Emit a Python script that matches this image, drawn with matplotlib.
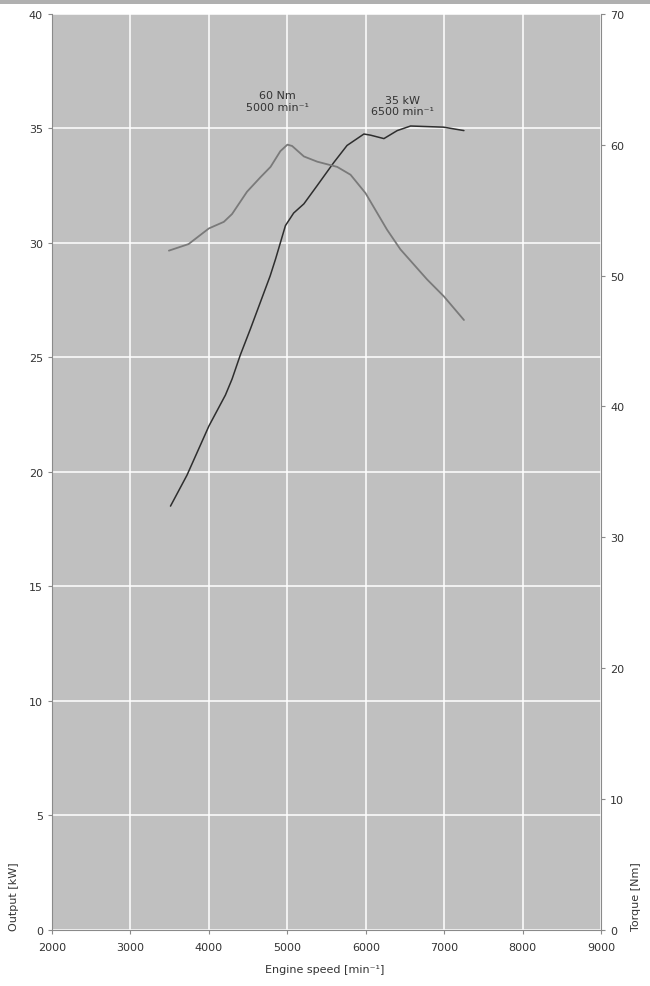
import matplotlib
matplotlib.use("Agg")
import matplotlib.pyplot as plt
from matplotlib.patches import Rectangle

# Leistungskurve (kW) ueber Drehzahl
power_rpm = [3510, 3720, 4000, 4210, 4295, 4400, 4530, 4655, 4780, 4850, 4975, 5080,
             5210, 5380, 5590, 5760, 5975, 6060, 6230, 6400, 6570, 6990, 7250]
power_kw = [18.5, 19.85, 22.0, 23.35, 24.05, 25.1, 26.25, 27.4, 28.55, 29.3, 30.75, 31.3,
            31.7, 32.5, 33.5, 34.25, 34.75, 34.7, 34.55, 34.9, 35.1, 35.05, 34.9]

# Drehmomentkurve (Nm) ueber Drehzahl
torque_rpm = [3490, 3740, 4000, 4190, 4295, 4485, 4655, 4785, 4910, 5000, 5060, 5210,
              5380, 5635, 5805, 5995, 6270, 6440, 6780, 6995, 7250]
torque_nm = [51.9, 52.4, 53.6, 54.1, 54.7, 56.4, 57.5, 58.3, 59.5, 60.0, 59.9, 59.1,
             58.7, 58.3, 57.7, 56.3, 53.5, 52.0, 49.7, 48.4, 46.6]

x_ticks = [2000, 3000, 4000, 5000, 6000, 7000, 8000, 9000]
left_ticks = [0, 5, 10, 15, 20, 25, 30, 35, 40]
right_ticks = [0, 10, 20, 30, 40, 50, 60, 70]

text_col = "#333333"
spine_col = "#8a8a8a"

fig = plt.figure(figsize=(6.5, 9.87), dpi=100)
fig.patch.set_facecolor("white")

# graue Leiste oben am Bildrand
fig.patches.append(Rectangle((0, 0.995), 1, 0.005, transform=fig.transFigure,
                             facecolor="#b0b0b0", edgecolor="none"))

ax = fig.add_axes([0.08, 0.057, 0.845, 0.928])
ax.set_facecolor("#c0c0c0")
ax.set_xlim(2000, 9000)
ax.set_ylim(0, 40)
ax.set_xticks(x_ticks)
ax.set_yticks(left_ticks)
ax.grid(True, color="white", linewidth=1.1)
ax.set_axisbelow(True)

ax2 = ax.twinx()
ax2.set_ylim(0, 70)
ax2.set_yticks(right_ticks)

for a in (ax, ax2):
    for side in a.spines:
        a.spines[side].set_visible(False)
    a.tick_params(colors=spine_col, labelcolor=text_col, labelsize=8, length=3, width=0.8)
ax2.spines["right"].set_visible(True)
ax2.spines["right"].set_color(spine_col)
ax.spines["left"].set_visible(True)
ax.spines["left"].set_color(spine_col)
ax.spines["bottom"].set_visible(True)
ax.spines["bottom"].set_color(spine_col)
ax.tick_params(axis="x", pad=6)

ax.plot(power_rpm, power_kw, color="#2e2e2e", linewidth=1.1, zorder=3,
        solid_joinstyle="round", solid_capstyle="round")
ax2.plot(torque_rpm, torque_nm, color="#7a7a7a", linewidth=1.3, zorder=3,
         solid_joinstyle="round", solid_capstyle="round")

ax.text(4870, 36.2, "60 Nm\n5000 min\u207b\u00b9", ha="center", va="center",
        fontsize=8, color=text_col, linespacing=1.2)
ax.text(6470, 36.0, "35 kW\n6500 min\u207b\u00b9", ha="center", va="center",
        fontsize=8, color=text_col, linespacing=1.2)

fig.text(0.022, 0.057, "Output [kW]", rotation=90, ha="center", va="bottom",
         fontsize=8, color=text_col)
fig.text(0.978, 0.057, "Torque [Nm]", rotation=90, ha="center", va="bottom",
         fontsize=8, color=text_col)
fig.text(0.5, 0.012, "Engine speed [min\u207b\u00b9]", ha="center", va="bottom",
         fontsize=8, color=text_col)

fig.savefig("out.png", dpi=100)
